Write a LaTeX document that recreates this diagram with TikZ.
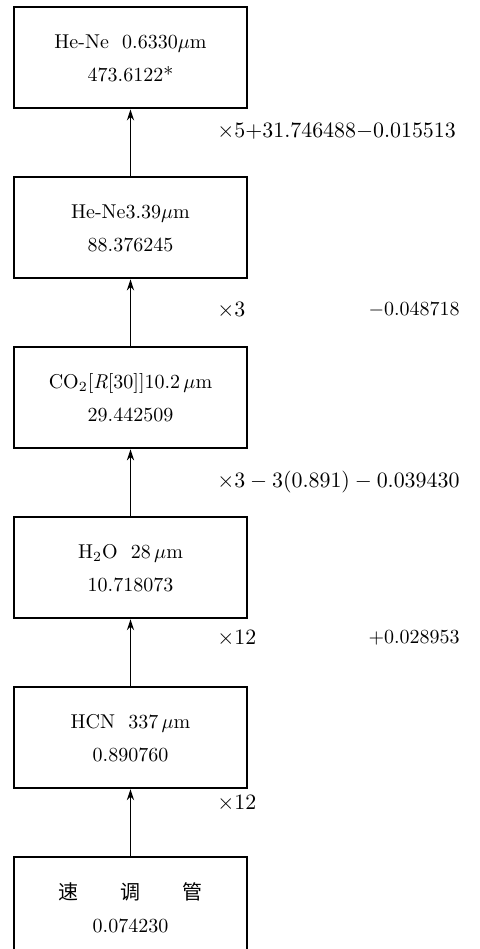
\documentclass[tikz,border=0pt]{standalone}
\usepackage{fontspec}
\usepackage{tikz}
\usetikzlibrary{positioning, arrows.meta}
\newfontfamily\cjk{Noto Sans CJK SC}

\begin{document}
\begin{tikzpicture}[
    box/.style={rectangle, draw, line width=1pt,
                minimum width=4.09cm, minimum height=1.775cm,
                inner sep=0pt, align=center,
                font=\fontsize{10}{16.5}\selectfont},
    arr/.style={-{Stealth[length=5.5pt, width=3.6pt]}, line width=0.75pt},
    mult/.style={anchor=west, inner sep=0pt, font=\fontsize{11}{13}\selectfont},
    corr/.style={anchor=east, inner sep=0pt, font=\fontsize{10}{12}\selectfont}
  ]
  \useasboundingbox (0,0) rectangle (8.435,16.677);

  % Sources, highest frequency on top
  \node[box] (heNeRed) at (2.293,15.658)
        {He-Ne\ \ 0.6330$\mu$m\\473.6122*};
  \node[box, below=1.176cm of heNeRed] (heNeIR)
        {He-Ne3.39$\mu$m\\88.376245};
  \node[box, below=1.176cm of heNeIR] (coTwo)
        {CO$_2$[\textit{R}[30]]10.2\,$\mu$m\\29.442509};
  \node[box, below=1.176cm of coTwo] (water)
        {H$_2$O\ \ 28\,$\mu$m\\10.718073};
  \node[box, below=1.176cm of water] (hcn)
        {HCN\ \ 337\,$\mu$m\\0.890760};
  \node[box, below=1.176cm of hcn] (klystron)
        {{\cjk 速\hspace{2.1em}调\hspace{2.1em}管}\\0.074230};

  % Multiplication steps
  \draw[arr] (klystron.north) -- (hcn.south);
  \draw[arr] (hcn.north) -- (water.south);
  \draw[arr] (water.north) -- (coTwo.south);
  \draw[arr] (coTwo.north) -- (heNeIR.south);
  \draw[arr] (heNeIR.north) -- (heNeRed.south);

  % Factors and offsets
  \node[mult] (m1) at (3.813,14.375) {$\times5{+}31.746488{-}0.015513$};
  \node[mult] (m2) at (3.813,11.229) {$\times3$};
  \node[corr] (c2) at (8.084,11.229) {$-0.048718$};
  \node[mult] (m3) at (3.813,8.207) {$\times3 - 3(0.891) - 0.039430$};
  \node[mult] (m4) at (3.813,5.465) {$\times12$};
  \node[corr] (c4) at (8.084,5.465) {$+0.028953$};
  \node[mult] (m5) at (3.813,2.566) {$\times12$};
\end{tikzpicture}
\end{document}
